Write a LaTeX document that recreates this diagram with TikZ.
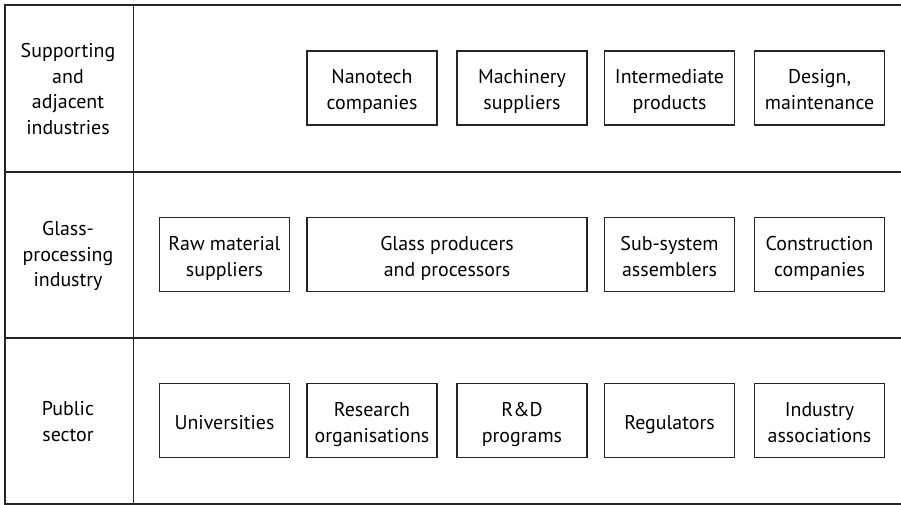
\documentclass[tikz,border=0pt]{standalone}
\usepackage{fontspec}
\setmainfont{PT Sans}
\newcommand\fl{\rule{0pt}{23bp}}
\newcommand\lz{\rule[-5.5bp]{0pt}{5.5bp}}
\begin{document}
\begin{tikzpicture}[x=1bp,y=-1bp,
  box/.style={draw=black!85,line width=1.3bp,minimum height=74bp,inner sep=0pt,align=center,
    font=\fontsize{20}{26}\selectfont},
  lab/.style={align=center,font=\fontsize{20}{26}\selectfont},
  rule/.style={draw=black!85,line width=1.4bp}]
\useasboundingbox (0,0) rectangle (901,505);
\coordinate (tl) at (5,5);
\coordinate (tr) at (901,5);
\coordinate (bl) at (5,504);
\coordinate (br) at (901,504);
\coordinate (dt) at (133.5,5);
\coordinate (db) at (133.5,504);
\coordinate (r1l) at (5,172);
\coordinate (r1r) at (901,172);
\coordinate (r2l) at (5,338);
\coordinate (r2r) at (901,338);
\draw[rule] (tr) -- (tl) -- (bl) -- (br);
\draw[rule] (dt) -- (db);
\draw[rule] (r1l) -- (r1r);
\draw[rule] (r2l) -- (r2r);
% row labels
\node[lab] (l1) at (68,89) {Supporting\\and\\adjacent\\industries};
\node[lab] (l2) at (68,256) {Glass-\\processing\\industry};
\node[lab] (l3) at (68,421.5) {Public\\sector};
% row 1
\node[box,minimum width=130bp] (n1) at (372,88) {\fl Nanotech\\companies\lz};
\node[box,minimum width=130bp] (n2) at (522,88) {\fl Machinery\\suppliers\lz};
\node[box,minimum width=130bp] (n3) at (669.5,88) {\fl Intermediate\\products\lz};
\node[box,minimum width=130bp] (n4) at (819.5,88) {\fl Design,\\maintenance\lz};
% row 2
\node[box,minimum width=130bp] (g1) at (224.5,254.5) {\fl Raw material\\suppliers\lz};
\node[box,minimum width=280bp] (g2) at (447,254.5) {\fl Glass producers\\and processors\lz};
\node[box,minimum width=130bp] (g3) at (669.5,254.5) {\fl Sub-system\\assemblers\lz};
\node[box,minimum width=130bp] (g4) at (819.5,254.5) {\fl Construction\\companies\lz};
% row 3
\node[box,minimum width=130bp] (p1) at (224.5,420.5) {\fl Universities\lz};
\node[box,minimum width=130bp] (p2) at (372,420.5) {\fl Research\\organisations\lz};
\node[box,minimum width=130bp] (p3) at (522,420.5) {\fl R\&D\\programs\lz};
\node[box,minimum width=130bp] (p4) at (669.5,420.5) {\fl Regulators\lz};
\node[box,minimum width=130bp] (p5) at (819.5,420.5) {\fl Industry\\associations\lz};
\end{tikzpicture}
\end{document}
